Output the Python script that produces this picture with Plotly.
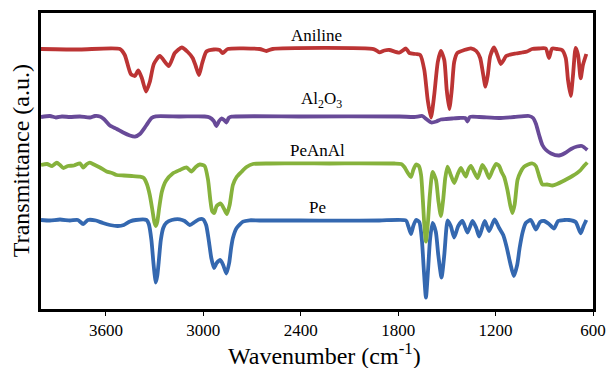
import plotly.graph_objects as go

# Wavenumber (cm-1) and transmittance (a.u., stacked) for each spectrum
aniline_wn = [4000, 3760, 3514, 3484, 3447, 3422, 3401, 3379, 3353, 3330, 3305, 3268, 3213, 3176, 3133, 3096, 3066, 3047, 3027, 3007, 2981, 2936, 2900, 2881, 2850, 2654, 2611, 2574, 1947, 1916, 1885, 1854, 1793, 1752, 1731, 1690, 1664, 1639, 1618, 1598, 1578, 1556, 1537, 1516, 1501, 1485, 1470, 1455, 1436, 1393, 1352, 1319, 1295, 1276, 1262, 1248, 1233, 1209, 1187, 1168, 1150, 1135, 1075, 1037, 1006, 975, 932, 891, 871, 852, 822, 791, 768, 754, 737, 723, 707, 692, 676, 662, 641]
aniline_t = [260, 259.5, 260, 254, 235, 233, 238.5, 231, 217.5, 227, 245, 253, 243, 256, 261.5, 257, 251, 243, 234, 246, 257.5, 259.5, 259, 256, 260, 260, 258, 260, 259.7, 256.7, 258.5, 259, 256.3, 260.5, 256, 255, 254, 239, 209, 191.5, 214, 247, 258, 249, 219, 200, 219, 247, 256, 259, 260.7, 258, 251, 234, 222.3, 234, 253, 261.5, 253, 245, 249, 253, 255.5, 256.5, 257.5, 260, 260.5, 260.5, 251, 260.5, 260, 259, 251, 229, 213, 234, 261, 254, 230.7, 244, 255]

al2o3_wn = [4000, 3945, 3908, 3871, 3822, 3760, 3699, 3668, 3637, 3613, 3576, 3533, 3494, 3453, 3422, 3391, 3354, 3319, 3293, 3145, 2992, 2961, 2936, 2920, 2903, 2889, 2872, 2858, 2844, 2826, 2408, 1793, 1701, 1651, 1627, 1596, 1565, 1537, 1504, 1467, 1424, 1387, 1373, 1359, 1301, 1178, 1086, 994, 969, 951, 932, 912, 889, 858, 809, 772, 735, 698, 668, 635]
al2o3_t = [192, 193, 191.5, 192.5, 192, 192.5, 191.5, 193, 192.5, 190, 183.5, 180, 176.5, 173.5, 172.3, 175, 183, 191, 192.7, 192.5, 192.5, 191.5, 188, 183, 188, 190.5, 189, 186.5, 191, 192.3, 192.5, 192.5, 192, 193, 190, 186.5, 187.5, 189.5, 190, 190.5, 191, 191, 187.5, 192, 192, 191, 192, 193, 191, 185, 174, 164, 159, 155.5, 153.5, 156, 160, 162.5, 163, 159]

peanal_wn = [4000, 3963, 3932, 3903, 3883, 3863, 3834, 3797, 3760, 3740, 3717, 3699, 3668, 3637, 3596, 3563, 3535, 3490, 3441, 3391, 3367, 3348, 3330, 3314, 3302, 3293, 3284, 3272, 3256, 3231, 3187, 3145, 3104, 3074, 3047, 3022, 2992, 2971, 2957, 2946, 2933, 2918, 2893, 2872, 2855, 2838, 2818, 2795, 2766, 2734, 2695, 2592, 2408, 2223, 2039, 1824, 1781, 1762, 1744, 1721, 1707, 1690, 1673, 1659, 1648, 1639, 1629, 1618, 1605, 1588, 1567, 1553, 1537, 1523, 1510, 1496, 1476, 1455, 1433, 1414, 1400, 1383, 1369, 1352, 1332, 1311, 1295, 1281, 1261, 1240, 1218, 1198, 1178, 1163, 1147, 1127, 1110, 1096, 1083, 1065, 1046, 1024, 1000, 973, 952, 932, 912, 883, 850, 821, 789, 760, 727, 698, 676, 656, 635]
peanal_t = [144, 145, 143, 146.3, 144, 141, 143, 143.5, 145.7, 141.5, 145, 146.3, 144, 141.5, 137.5, 136, 134, 133.5, 133, 132.3, 131, 125, 114, 99, 87, 83, 87, 101, 117, 128, 135.7, 139, 141.7, 137.5, 142, 144.5, 143, 129, 109, 98, 96, 103, 105.5, 100, 95, 104, 124, 132, 137, 142, 145, 145.5, 145.7, 145.5, 145.7, 145.5, 145, 142, 137, 132, 139, 144.5, 143, 134, 109, 84, 67.5, 84, 114, 137, 129, 109, 93, 109, 131, 142.3, 134, 126, 135, 141, 137, 132.5, 139, 143, 137, 131, 138, 144, 139, 131, 139, 145, 143, 137, 132, 119, 104, 96, 104, 129, 137, 142.3, 144.5, 145.5, 143, 133, 124.5, 124.5, 123.5, 125, 127.5, 130, 133, 136, 139, 143, 146.5]

pe_wn = [4000, 3945, 3883, 3822, 3773, 3740, 3711, 3662, 3619, 3576, 3527, 3490, 3453, 3416, 3350, 3336, 3320, 3308, 3299, 3293, 3284, 3275, 3262, 3247, 3227, 3195, 3145, 3115, 3084, 3053, 3029, 3002, 2983, 2967, 2951, 2934, 2918, 2895, 2878, 2858, 2841, 2829, 2818, 2795, 2756, 2715, 2654, 2408, 2162, 1916, 1752, 1738, 1721, 1707, 1690, 1670, 1654, 1642, 1629, 1616, 1604, 1588, 1568, 1553, 1533, 1516, 1504, 1496, 1476, 1455, 1430, 1404, 1373, 1342, 1319, 1301, 1267, 1240, 1206, 1178, 1153, 1132, 1110, 1088, 1067, 1052, 1033, 1014, 983, 952, 926, 901, 871, 840, 815, 778, 748, 707, 676, 658, 641]
pe_t = [89, 88.5, 89.5, 88.5, 89, 85, 89, 88.5, 86, 84, 83, 84, 87.5, 89, 89, 85, 69, 47, 33, 26.5, 33, 47, 69, 81, 86.3, 89, 89.7, 88, 84, 87, 89.5, 89.7, 84, 69, 51, 41, 46, 49, 44, 35.5, 46, 61, 71, 81, 87.3, 88.7, 88.5, 88.5, 88.3, 88.5, 88.5, 83, 75, 83, 89, 87, 69, 39, 11.5, 39, 69, 86, 77, 54, 31.5, 54, 79, 88.5, 83, 71.5, 83, 88, 76.5, 88, 81, 72.5, 88, 78, 89.5, 81, 74, 62, 46, 33, 44, 61, 77, 86, 89, 79.5, 87, 88, 85, 80.5, 88, 89, 89, 87, 75.7, 83, 89]

labels = ["Aniline", "Al<sub>2</sub>O<sub>3</sub>", "PeAnAl", "Pe"]
label_y = [274, 209, 159, 102]
label_wn = [2303, 2275, 2297, 2294]
x_ticks = [3600, 3000, 2400, 1800, 1200, 600]

serif = "Liberation Serif, Times New Roman, serif"

fig = go.Figure()
series = [
    (pe_wn, pe_t, "rgb(52,104,176)"),
    (peanal_wn, peanal_t, "rgb(134,178,60)"),
    (al2o3_wn, al2o3_t, "rgb(104,74,152)"),
    (aniline_wn, aniline_t, "rgb(188,52,52)"),
]
for wn, t, c in series:
    fig.add_trace(go.Scatter(x=wn, y=t, mode="lines",
                             line=dict(color=c, width=3.8, shape="spline", smoothing=0.6),
                             showlegend=False, hoverinfo="skip"))

for txt, yv, xv in zip(labels, label_y, label_wn):
    fig.add_annotation(x=xv, y=yv, text=txt, showarrow=False,
                       font=dict(family=serif, size=17, color="black"))

# axis titles
fig.add_annotation(xref="paper", yref="paper", x=0.514, y=-0.152,
                   text="Wavenumber (cm<sup>-1</sup>)", showarrow=False,
                   xanchor="center", yanchor="middle",
                   font=dict(family=serif, size=24, color="black"))
fig.add_annotation(xref="paper", yref="paper", x=-0.036, y=0.5,
                   text="Transmittance (a.u.)", showarrow=False, textangle=-90,
                   xanchor="center", yanchor="middle",
                   font=dict(family=serif, size=24, color="black"))

fig.update_layout(
    width=612, height=368,
    margin=dict(l=41, r=19, t=13, b=59, autoexpand=False),
    paper_bgcolor="white", plot_bgcolor="white",
    xaxis=dict(range=[4000, 600], tickvals=x_ticks, ticktext=[str(v) for v in x_ticks],
               automargin=False,
               showgrid=False, zeroline=False, showline=True, mirror=True,
               linecolor="black", linewidth=2.5, ticks="outside", ticklen=4,
               tickcolor="black", tickwidth=1,
               tickfont=dict(family=serif, size=17, color="black")),
    yaxis=dict(range=[0, 296], showticklabels=False, showgrid=False, zeroline=False,
               automargin=False,
               showline=True, mirror=True, linecolor="black", linewidth=2.5, ticks=""),
)

fig.write_html("out.html")
